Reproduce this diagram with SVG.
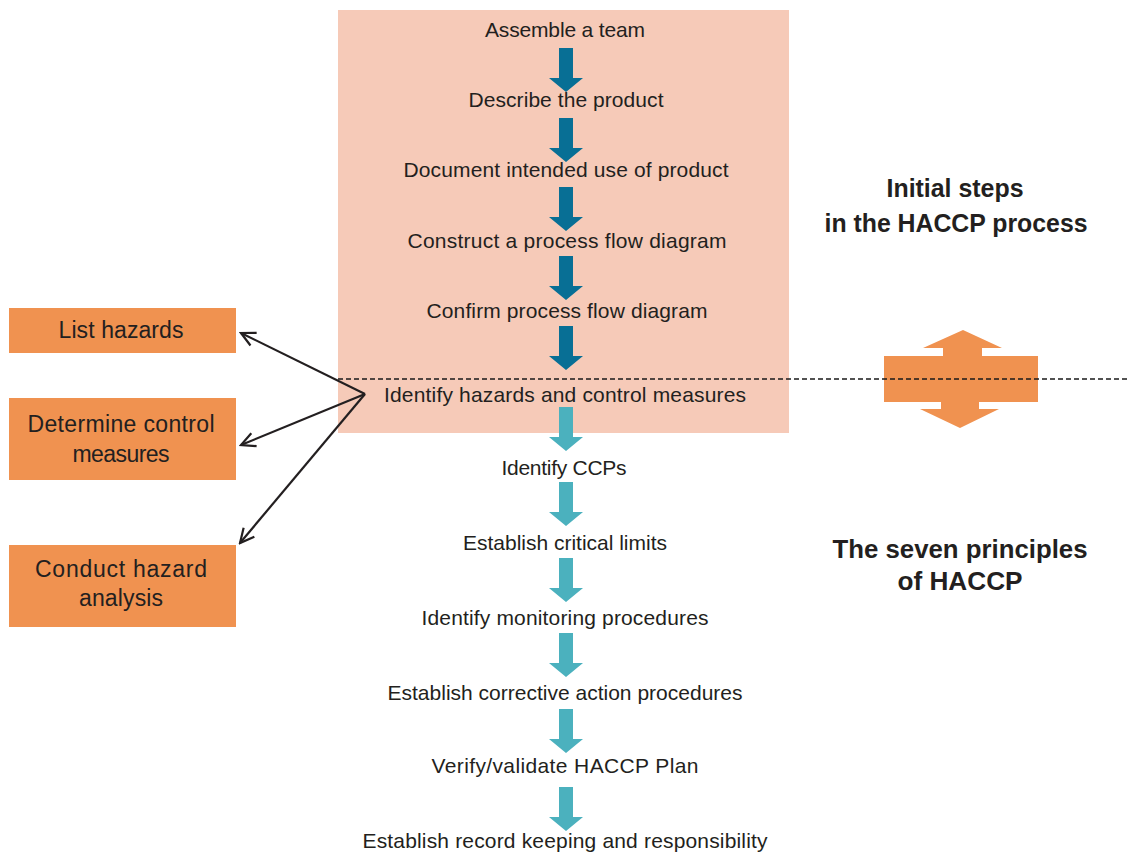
<svg xmlns="http://www.w3.org/2000/svg" width="1144" height="857" viewBox="0 0 1144 857">
  <style>
    .step { font-family: "Liberation Sans", Arial, sans-serif; font-size: 21px; fill: #231f20; text-anchor: middle; }
    .side { font-family: "Liberation Sans", Arial, sans-serif; font-size: 23px; fill: #231f20; text-anchor: middle; }
    .title { font-family: "Liberation Sans", Arial, sans-serif; font-size: 25px; font-weight: bold; fill: #231f20; text-anchor: middle; }
    .box { fill: #f09250; }
    .link { stroke: #231f20; stroke-width: 2.2; fill: none; }
    .dark { fill: #086f95; }
    .teal { fill: #4bb1be; }
  </style>
  <defs>
    <!-- block arrow pointing down, origin at top of shaft -->
    <path id="blockArrow" d="M-7,0 H7 V30 H17 L0,44 L-17,30 H-7 Z"/>
    <marker id="openHead" viewBox="0 0 18 18" refX="16" refY="9" markerWidth="18" markerHeight="18" markerUnits="userSpaceOnUse" orient="auto">
      <path d="M2,2 L16,9 L2,16" fill="none" stroke="#231f20" stroke-width="2.2"/>
    </marker>
  </defs>

  <rect width="1144" height="857" fill="#ffffff"/>

  <!-- shaded area: initial steps -->
  <rect id="initial-area" x="338" y="10" width="451" height="423" fill="#f6cab8"/>

  <!-- flow connectors -->
  <g id="connectors">
    <use href="#blockArrow" class="dark" transform="translate(566,48)"/>
    <use href="#blockArrow" class="dark" transform="translate(566,118)"/>
    <use href="#blockArrow" class="dark" transform="translate(566,187)"/>
    <use href="#blockArrow" class="dark" transform="translate(566,256)"/>
    <use href="#blockArrow" class="dark" transform="translate(566,326)"/>
    <use href="#blockArrow" class="teal" transform="translate(566,407)"/>
    <use href="#blockArrow" class="teal" transform="translate(566,482)"/>
    <use href="#blockArrow" class="teal" transform="translate(566,558)"/>
    <use href="#blockArrow" class="teal" transform="translate(566,633)"/>
    <use href="#blockArrow" class="teal" transform="translate(566,709)"/>
    <use href="#blockArrow" class="teal" transform="translate(566,787)"/>
    <line class="link" x1="365" y1="394" x2="241" y2="333" marker-end="url(#openHead)"/>
    <line class="link" x1="365" y1="394" x2="241" y2="445" marker-end="url(#openHead)"/>
    <line class="link" x1="365" y1="394" x2="240" y2="543" marker-end="url(#openHead)"/>
  </g>

  <!-- process steps -->
  <g id="step-team"><text class="step" x="565" y="37" textLength="160" lengthAdjust="spacing">Assemble a team</text></g>
  <g id="step-describe"><text class="step" x="566" y="107" textLength="195" lengthAdjust="spacing">Describe the product</text></g>
  <g id="step-use"><text class="step" x="566" y="177" textLength="325" lengthAdjust="spacing">Document intended use of product</text></g>
  <g id="step-construct"><text class="step" x="567" y="248" textLength="319" lengthAdjust="spacing">Construct a process flow diagram</text></g>
  <g id="step-confirm"><text class="step" x="567" y="318" textLength="281" lengthAdjust="spacing">Confirm process flow diagram</text></g>
  <g id="step-hazards"><text class="step" x="565" y="402" textLength="362" lengthAdjust="spacing">Identify hazards and control measures</text></g>
  <g id="step-ccp"><text class="step" x="564" y="475" textLength="125" lengthAdjust="spacing">Identify CCPs</text></g>
  <g id="step-limits"><text class="step" x="565" y="550" textLength="204" lengthAdjust="spacing">Establish critical limits</text></g>
  <g id="step-monitor"><text class="step" x="565" y="625" textLength="287" lengthAdjust="spacing">Identify monitoring procedures</text></g>
  <g id="step-corrective"><text class="step" x="565" y="700" textLength="355" lengthAdjust="spacing">Establish corrective action procedures</text></g>
  <g id="step-verify"><text class="step" x="565" y="773" textLength="267" lengthAdjust="spacing">Verify/validate HACCP Plan</text></g>
  <g id="step-records"><text class="step" x="565" y="848" textLength="405" lengthAdjust="spacing">Establish record keeping and responsibility</text></g>

  <!-- hazard analysis sub-steps -->
  <g id="list-hazards">
    <rect class="box" x="9" y="308" width="227" height="45"/>
    <text class="side" x="121" y="338" textLength="125" lengthAdjust="spacing">List hazards</text>
  </g>
  <g id="control-measures">
    <rect class="box" x="9" y="398" width="227" height="82"/>
    <text class="side" x="121" y="432" textLength="187" lengthAdjust="spacing">Determine control</text>
    <text class="side" x="121" y="462" textLength="97" lengthAdjust="spacing">measures</text>
  </g>
  <g id="hazard-analysis">
    <rect class="box" x="9" y="545" width="227" height="82"/>
    <text class="side" x="121" y="577" textLength="172" lengthAdjust="spacing">Conduct hazard</text>
    <text class="side" x="121" y="606" textLength="84" lengthAdjust="spacing">analysis</text>
  </g>

  <!-- section labels -->
  <g id="label-initial">
    <text class="title" x="955" y="197" textLength="137" lengthAdjust="spacingAndGlyphs">Initial steps</text>
    <text class="title" x="956" y="232" textLength="263" lengthAdjust="spacingAndGlyphs">in the HACCP process</text>
  </g>
  <g id="label-principles">
    <text class="title" x="960" y="558" textLength="255" lengthAdjust="spacingAndGlyphs">The seven principles</text>
    <text class="title" x="960" y="590" textLength="125" lengthAdjust="spacingAndGlyphs">of HACCP</text>
  </g>

  <!-- double-headed boundary arrow -->
  <g id="boundary-arrow">
    <polygon fill="#f09250" points="963,330 1002,348 982,348 982,356 1038,356 1038,402 979,402 979,409 999,409 960,428 920,409 941,409 941,402 884,402 884,356 943,356 943,348 923,348"/>
  </g>

  <!-- boundary between initial steps and principles -->
  <line id="boundary" x1="338" y1="379" x2="1130" y2="379" stroke="#1a1a1a" stroke-width="1.5" stroke-dasharray="5 3"/>
</svg>
